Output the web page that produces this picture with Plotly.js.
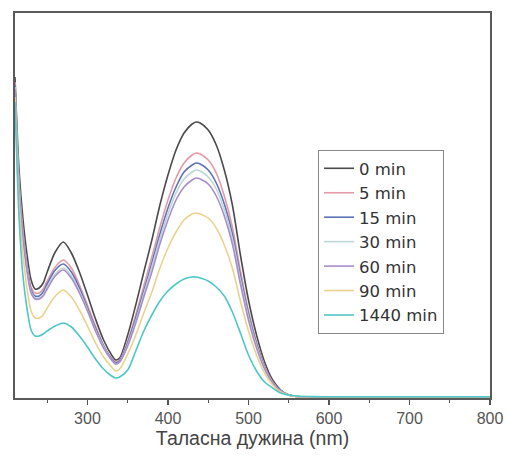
<!DOCTYPE html>
<html>
<head>
<meta charset="utf-8">
<script src="https://cdn.plot.ly/plotly-3.0.1.min.js"></script>
<style>html,body{margin:0;padding:0;background:#fff;}#chart{width:506px;height:457px;}</style>
</head>
<body>
<div id="chart"></div>
<script>
const wavelength = [210,215,220,225,230,235,240,245,250,260,270,280,290,300,310,320,330,335,
  340,350,360,370,380,390,400,410,420,430,435,440,450,460,470,480,490,500,510,520,530,540,550,560,580,600,650,700,750,800];

const seriesNames = ['0 min','5 min','15 min','30 min','60 min','90 min','1440 min'];

const abs0 = [3.20,2.27,1.77,1.42,1.17,1.08,1.09,1.14,1.25,1.45,1.55,1.44,1.25,1.02,0.78,0.57,0.42,0.37,
  0.39,0.62,0.92,1.25,1.57,1.92,2.22,2.47,2.64,2.73,2.75,2.74,2.67,2.52,2.27,1.92,1.42,0.97,0.62,0.35,0.17,0.07,0.02,0.005,0.003,0.003,0.003,0.003,0.003,0.003];
const abs5 = [3.15,2.15,1.65,1.32,1.10,1.04,1.04,1.08,1.16,1.30,1.37,1.29,1.12,0.92,0.71,0.52,0.39,0.35,
  0.37,0.56,0.82,1.11,1.40,1.70,1.97,2.19,2.34,2.42,2.44,2.43,2.37,2.24,2.01,1.70,1.26,0.86,0.55,0.31,0.15,0.06,0.02,0.005,0.003,0.003,0.003,0.003,0.003,0.003];
const abs15 = [3.12,2.12,1.62,1.29,1.07,1.01,1.01,1.05,1.13,1.27,1.33,1.25,1.09,0.89,0.69,0.51,0.38,0.34,
  0.36,0.54,0.79,1.06,1.34,1.63,1.89,2.10,2.25,2.32,2.34,2.33,2.27,2.14,1.93,1.63,1.21,0.83,0.53,0.30,0.14,0.06,0.02,0.005,0.003,0.003,0.003,0.003,0.003,0.003];
const abs30 = [3.10,2.10,1.60,1.27,1.05,0.99,0.99,1.02,1.10,1.23,1.29,1.21,1.06,0.87,0.67,0.50,0.37,0.33,
  0.35,0.52,0.76,1.03,1.30,1.58,1.83,2.04,2.18,2.25,2.27,2.26,2.20,2.08,1.87,1.58,1.17,0.80,0.51,0.29,0.14,0.06,0.02,0.005,0.003,0.003,0.003,0.003,0.003,0.003];
const abs60 = [3.08,2.08,1.58,1.25,1.04,0.98,0.98,1.01,1.08,1.21,1.27,1.19,1.04,0.86,0.66,0.49,0.37,0.33,
  0.35,0.51,0.74,1.00,1.25,1.53,1.77,1.97,2.10,2.17,2.19,2.18,2.13,2.01,1.81,1.53,1.13,0.77,0.49,0.28,0.14,0.06,0.02,0.005,0.003,0.003,0.003,0.003,0.003,0.003];
const abs90 = [3.00,1.95,1.42,1.08,0.86,0.79,0.79,0.82,0.89,1.01,1.07,1.00,0.87,0.71,0.54,0.40,0.30,0.26,
  0.28,0.43,0.62,0.84,1.05,1.29,1.49,1.65,1.77,1.83,1.84,1.83,1.79,1.69,1.52,1.29,0.96,0.66,0.42,0.24,0.12,0.05,0.02,0.005,0.003,0.003,0.003,0.003,0.003,0.003];
const abs1440 = [2.95,1.80,1.20,0.88,0.67,0.61,0.61,0.63,0.66,0.71,0.74,0.70,0.61,0.50,0.38,0.28,0.21,0.19,
  0.20,0.27,0.46,0.66,0.82,0.96,1.06,1.13,1.18,1.20,1.20,1.19,1.16,1.10,1.01,0.85,0.64,0.42,0.26,0.15,0.09,0.04,0.02,0.01,0.004,0.003,0.003,0.003,0.003,0.003];

const seriesValues = [abs0, abs5, abs15, abs30, abs60, abs90, abs1440];
const colors = ['#4a4a4a','#e39aa6','#5d73b5','#bcd6d8','#a98ccc','#ead28e','#4fc6c8'];

const traces = seriesNames.map((name, i) => ({
  x: wavelength,
  y: seriesValues[i],
  type: 'scatter',
  mode: 'lines',
  name: name,
  line: {color: colors[i], width: 1.6, shape: 'spline', smoothing: 0.8}
}));

const layout = {
  width: 506,
  height: 457,
  margin: {l: 15, r: 16, t: 13, b: 59},
  paper_bgcolor: '#ffffff',
  plot_bgcolor: '#ffffff',
  showlegend: true,
  font: {family: 'Liberation Sans, Arial, sans-serif', color: '#444'},
  xaxis: {
    range: [210, 800],
    tick0: 0, dtick: 100,
    ticks: 'outside', ticklen: 5, tickwidth: 1.2, tickcolor: '#555',
    minor: {dtick: 50, ticks: 'outside', ticklen: 3, tickcolor: '#555'},
    showgrid: false, zeroline: false,
    showline: true, linecolor: '#5a5a5a', linewidth: 2, mirror: true,
    tickfont: {size: 16, color: '#555'},
    title: {text: 'Таласна дужина (nm)', font: {size: 19.5, color: '#444'}, standoff: 5}
  },
  yaxis: {
    range: [-0.01, 3.84],
    showticklabels: false, ticks: '',
    showgrid: false, zeroline: false,
    showline: true, linecolor: '#5a5a5a', linewidth: 2, mirror: true
  },
  legend: {
    x: 0.638, y: 0.644, xanchor: 'left', yanchor: 'top',
    bgcolor: '#ffffff', bordercolor: '#888', borderwidth: 1,
    font: {family: 'DejaVu Sans, sans-serif', size: 16.5, color: '#333'},
    tracegroupgap: 0
  }
};

Plotly.newPlot('chart', traces, layout, {displayModeBar: false, staticPlot: true});
</script>
</body>
</html>
